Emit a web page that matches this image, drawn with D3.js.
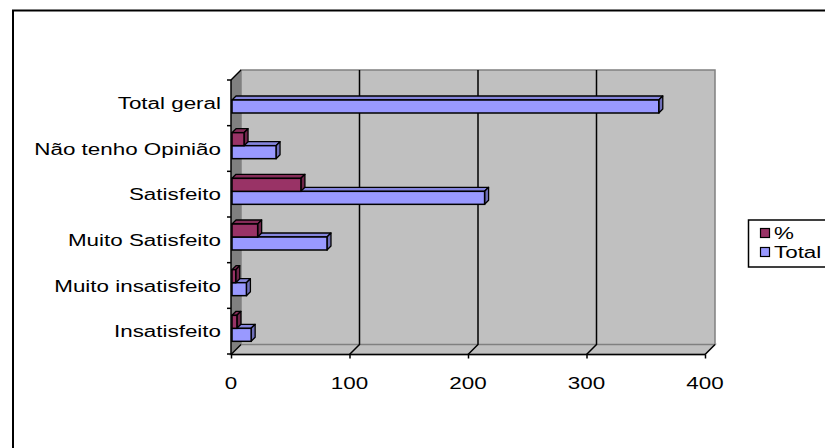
<!DOCTYPE html>
<html><head><meta charset="utf-8">
<script src="https://cdn.jsdelivr.net/npm/d3@7"></script>
<style>body{margin:0;background:#fff}svg{display:block}text{font-family:"Liberation Sans",Arial,sans-serif;font-size:16px;fill:#000}</style>
</head><body>
<script>
const categories = ["Total geral","Não tenho Opinião","Satisfeito","Muito Satisfeito","Muito insatisfeito","Insatisfeito"];
const pctValues = [null, 11, 59, 22.5, 4, 5];
const totalValues = [361, 38, 214, 81, 13, 17];
const seriesNames = ["%", "Total"];
const seriesColors = ["#993366", "#9999FF"];
const xTicks = [0, 100, 200, 300, 400];

(function(){
const W = 825, H = 448, SX = 1.4;
const svg = d3.select("body").append("svg").attr("width", W).attr("height", H);
svg.append("rect").attr("width", W).attr("height", H).attr("fill", "#fff");
svg.append("path").attr("d", `M13,${H} L13,10.5 L${W},10.5`).attr("fill","none").attr("stroke","#000").attr("stroke-width",2);

const x = d3.scaleLinear().domain([0, 400]).range([231, 705]);
const y = d3.scaleBand().domain(categories).range([80, 354]);
const yi = d3.scaleBand().domain(seriesNames).range([7, 33]);
const DX = 10, DY = -10;
const dx = 4, dy = -4;

const yTop = 80, yBot = 354.5;
svg.append("rect").attr("x", x(0)+DX).attr("y", yTop+DY).attr("width", x(400)-x(0)).attr("height", yBot-yTop)
  .attr("fill", "#C0C0C0");
svg.append("polygon").attr("points", [[x(0),yTop],[x(0)+DX,yTop+DY],[x(0)+DX,yBot+DY],[x(0),yBot]].join(" "))
  .attr("fill", "#808080");
svg.append("polygon").attr("points", [[x(0),yBot],[x(0)+DX,yBot+DY],[x(400)+DX,yBot+DY],[x(400),yBot]].join(" "))
  .attr("fill", "#C0C0C0").attr("stroke", "#808080").attr("stroke-width", 1.5);
svg.append("path").attr("d", `M${x(0)+DX},${yBot+DY} L${x(0)+DX},${yTop+DY} L${x(400)+DX},${yTop+DY} L${x(400)+DX},${yBot+DY}`)
  .attr("fill","none").attr("stroke","#808080").attr("stroke-width",1.5);
svg.append("line").attr("x1",x(0)).attr("y1",yTop).attr("x2",x(0)+DX).attr("y2",yTop+DY).attr("stroke","#000").attr("stroke-width",1.5);

xTicks.slice(1, -1).forEach(t => {
  svg.append("path").attr("d", `M${x(t)+DX},${yTop+DY} L${x(t)+DX},${yBot+DY} L${x(t)},${yBot}`)
    .attr("fill","none").attr("stroke","#000").attr("stroke-width",1.5);
});
svg.append("path").attr("d", `M${x(0)+DX},${yBot+DY} L${x(0)},${yBot}`).attr("fill","none").attr("stroke","#000").attr("stroke-width",1.2);
svg.append("path").attr("d", `M${x(400)+DX},${yBot+DY} L${x(400)},${yBot}`).attr("fill","none").attr("stroke","#000").attr("stroke-width",1.2);

const xAxis = svg.append("g").attr("transform", `translate(0,${yBot})`)
  .call(d3.axisBottom(x).tickValues(xTicks).tickSize(4).tickFormat(""));
xAxis.selectAll("line,path").attr("stroke","#000").attr("stroke-width",1.5);
xAxis.select(".domain").attr("d", `M${x(0)},0H${x(400)}`);
svg.selectAll(".xlab").data(xTicks).enter().append("text")
  .attr("transform", d => `translate(${x(d)},389) scale(${SX},1)`)
  .attr("text-anchor","middle").text(d => d);

const bounds = categories.map(c => y(c)).concat([y.range()[1]]);
svg.append("line").attr("x1",x(0)).attr("x2",x(0)).attr("y1",yTop).attr("y2",yBot).attr("stroke","#000").attr("stroke-width",1.5);
svg.selectAll(".ytick").data(bounds).enter().append("line")
  .attr("x1",x(0)-4).attr("x2",x(0)).attr("y1",d=>d).attr("y2",d=>d).attr("stroke","#000").attr("stroke-width",1.5);
svg.selectAll(".ylab").data(categories).enter().append("text")
  .attr("transform", d => `translate(221,${y(d)+y.bandwidth()/2+6}) scale(${SX},1)`)
  .attr("text-anchor","end").text(d => d);

function bar(g, v0, v1, yy, h, color) {
  const x0 = x(v0)+1, x1 = x(v1), y0 = yy, y1 = yy + h;
  const c = d3.color(color);
  g.append("polygon").attr("points", [[x0,y0],[x0+dx,y0+dy],[x1+dx,y0+dy],[x1,y0]].join(" "))
    .attr("fill", c.darker(0.4)).attr("stroke","#000").attr("stroke-width",1.3).attr("stroke-linejoin","round");
  g.append("polygon").attr("points", [[x1,y0],[x1+dx,y0+dy],[x1+dx,y1+dy],[x1,y1]].join(" "))
    .attr("fill", c.darker(0.9)).attr("stroke","#000").attr("stroke-width",1.3).attr("stroke-linejoin","round");
  g.append("rect").attr("x", x0).attr("y", y0).attr("width", Math.max(0, x1-x0)).attr("height", h)
    .attr("fill", color).attr("stroke","#000").attr("stroke-width",1.5);
}
const gb = svg.append("g");
categories.forEach((c, i) => {
  const seriesVals = [pctValues[i], totalValues[i]];
  [1, 0].forEach(s => {
    const v = seriesVals[s];
    if (v == null) return;
    bar(gb, 0, v, y(c) + yi(seriesNames[s]), yi.bandwidth(), seriesColors[s]);
  });
});

const lg = svg.append("g");
lg.append("rect").attr("x",748.5).attr("y",220).attr("width",90).attr("height",47)
  .attr("fill","#fff").attr("stroke","#000").attr("stroke-width",1.5);
seriesNames.forEach((s, i) => {
  const cy = 233 + i * 19;
  lg.append("rect").attr("x",760.5).attr("y",cy-4.5).attr("width",9).attr("height",9)
    .attr("fill",seriesColors[i]).attr("stroke","#000").attr("stroke-width",1.2);
  lg.append("text").attr("transform",`translate(774,${cy+6}) scale(${SX},1)`).text(s);
});
})();
</script>
</body></html>
